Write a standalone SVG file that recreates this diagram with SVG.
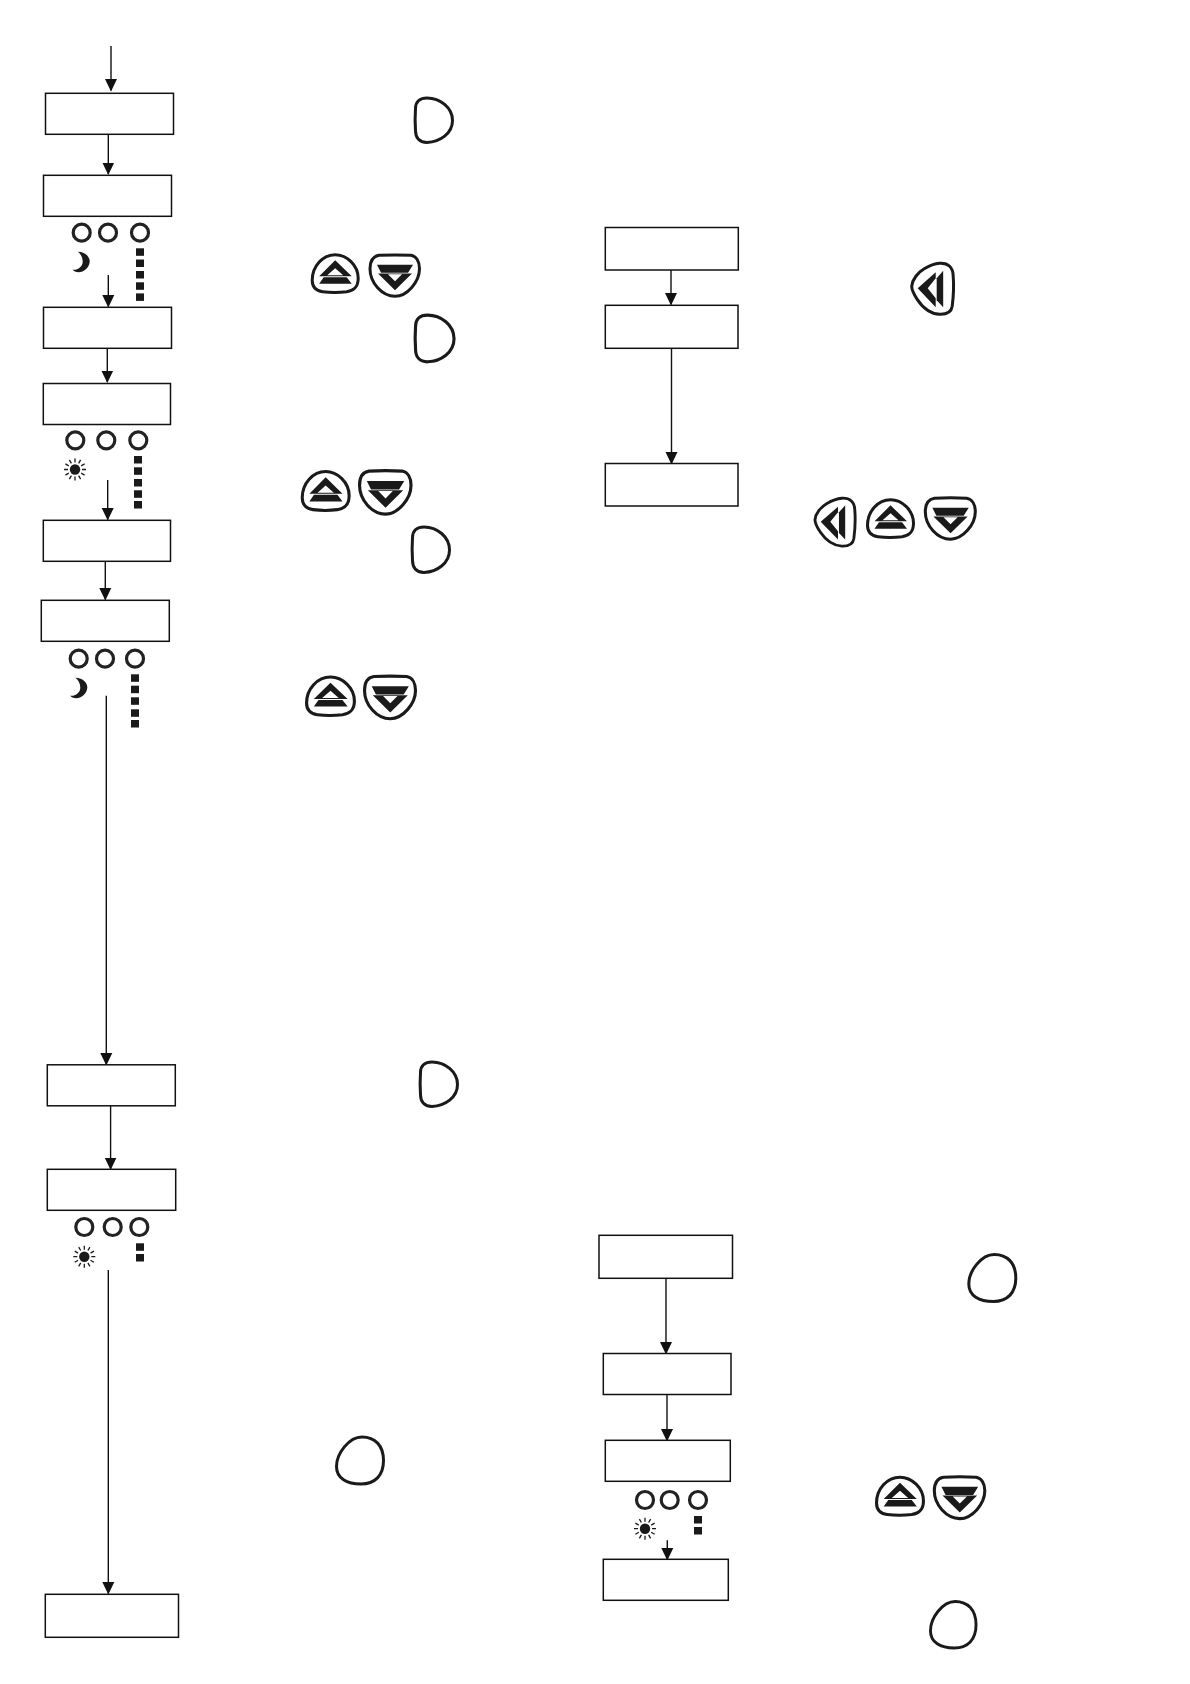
<svg xmlns="http://www.w3.org/2000/svg" width="1190" height="1684" viewBox="0 0 1190 1684">
<style>
.box{fill:#fff;stroke:#111;stroke-width:1.5}
.conn{fill:none;stroke:#111;stroke-width:1.4;marker-end:url(#arrow)}
.led{fill:#fff;stroke:#222;stroke-width:3.2}
.btn{fill:#fff;stroke:#1a1a1a;stroke-width:3}
.ink{fill:#1a1a1a}
.ray{stroke:#1a1a1a;stroke-width:1.3}
</style>
<defs>
<marker id="arrow" markerUnits="userSpaceOnUse" markerWidth="14" markerHeight="14" refX="11.500" refY="7" orient="auto"><path d="M0,1L12.500,7L0,13Z" fill="#111"/></marker>
<path id="d" class="btn" d="M13,1.500C26,1.500 38.500,11 38.500,24C38.500,37 26,45.500 13,46C5,46 1.500,41 1.500,34C1,27 1,19 1.500,12C1.500,5 6,1.500 13,1.500Z"/>
<path id="o" class="btn" d="M27,1.500C40,1.500 48.500,10 48.500,25C48.500,40 40,48.500 26,48.500C12,48.500 1.500,43 1.500,31C1.500,18 14,1.500 27,1.500Z"/>
<g id="up"><path class="btn" d="M24.500,1.500C36,1.500 47.500,12 47.500,25C47.500,35 42,37.500 36,38.500C28,39.500 20,39.500 12,38.500C5,37.500 1.500,33 1.500,27C1.500,13 12,1.500 24.500,1.500Z"/><path class="ink" fill-rule="evenodd" d="M24.500,7L41,23L8.500,23ZM24.500,15L16.500,22L32.500,22Z"/><path class="ink" d="M13,24L36,24L41,30.500L8.500,30.500Z"/></g>
<g id="down"><path class="btn" d="M10,1.500C20,1 32,1 42,1.500C47.500,2.500 50.500,8 50.500,15C50.500,28 38,42.500 26,42.500C13,42.500 1,29 1,15C1,7 4,2.500 10,1.500Z"/><path class="ink" d="M8,11L44,11L39,19L12,19Z"/><path class="ink" fill-rule="evenodd" d="M9,19.700L43,19.700L26,36.500ZM19,20.500L33,20.500L26,27.500Z"/></g>
<g id="left"><path class="btn" d="M29,1C37.500,0.500 42.500,5 42.500,14C43.500,26 42.500,36 41.500,44C40.500,50.500 35,52.200 29,52C20,51.500 12.500,46 6.500,37C2.500,31 1,26 1,24C1.500,17 7.500,10 13.500,6.500C18.500,3.500 23,1.500 29,1Z"/><path class="ink" fill-rule="evenodd" d="M7,26L25,10L25,45ZM17,26L25,36L25,16Z"/><path class="ink" d="M26,16L32.500,8.500L32.500,45L26,38Z"/></g>
<path id="moon" class="ink" d="M-4,-10C4,-10 8.500,-4 8,0C7.500,6 2,10.500 -3,10.500C-6,10.500 -8,9.500 -9,8C-4,8.500 1,5 1,0C1,-4 -1,-8 -4,-10Z"/>
<g id="sun"><circle r="5.200" class="ink"/><path class="ray" d="M0,-7V-11M3.600,-6.200L5.600,-9.600M6.200,-3.600L9.600,-5.600M7,0H11M6.200,3.600L9.600,5.600M3.600,6.200L5.600,9.600M0,7V11M-3.600,6.200L-5.600,9.600M-6.200,3.600L-9.600,5.600M-7,0H-11M-6.200,-3.600L-9.600,-5.600M-3.600,-6.200L-5.600,-9.600"/></g>
<rect id="sq" class="ink" width="8" height="7.500"/>
</defs>
<rect width="1190" height="1684" fill="#fff"/>
<g id="connectors">
<path class="conn" d="M111,46V90.500"/>
<path class="conn" d="M108.300,134.500V174"/>
<path class="conn" d="M108.300,275V306.500"/>
<path class="conn" d="M107.300,348.500V382"/>
<path class="conn" d="M107.700,480V519.500"/>
<path class="conn" d="M105.300,561.500V599.500"/>
<path class="conn" d="M106.300,695.700V1064.500"/>
<path class="conn" d="M110.600,1106V1169"/>
<path class="conn" d="M108.300,1270V1593.500"/>
<path class="conn" d="M671,270V304.500"/>
<path class="conn" d="M671.500,348V463.500"/>
<path class="conn" d="M666,1278V1353.500"/>
<path class="conn" d="M667,1394V1440.500"/>
<path class="conn" d="M667.300,1540.300V1559.500"/>
</g>
<g id="node-1"><rect class="box" x="45.500" y="93.300" width="128" height="41"/></g>
<g id="node-2"><rect class="box" x="43.500" y="175.300" width="128" height="41"/></g>
<g id="node-3"><rect class="box" x="43.500" y="307.300" width="128" height="41"/></g>
<g id="node-4"><rect class="box" x="43.300" y="383.500" width="127.200" height="41"/></g>
<g id="node-5"><rect class="box" x="43.300" y="520.300" width="127.200" height="41"/></g>
<g id="node-6"><rect class="box" x="41.300" y="600.300" width="128" height="41"/></g>
<g id="node-7"><rect class="box" x="47.300" y="1064.800" width="128" height="41"/></g>
<g id="node-8"><rect class="box" x="47.300" y="1169.300" width="128.400" height="41"/></g>
<g id="node-9"><rect class="box" x="45.300" y="1594.300" width="133.200" height="43"/></g>
<g id="node-r1"><rect class="box" x="605.300" y="227.500" width="133" height="42.500"/></g>
<g id="node-r2"><rect class="box" x="605.300" y="305.300" width="132.700" height="43"/></g>
<g id="node-r3"><rect class="box" x="605.300" y="463.500" width="132.700" height="42.500"/></g>
<g id="node-r4"><rect class="box" x="599" y="1235.300" width="133.500" height="43"/></g>
<g id="node-r5"><rect class="box" x="603.300" y="1353.500" width="127.700" height="41"/></g>
<g id="node-r6"><rect class="box" x="605.300" y="1440.300" width="125" height="41"/></g>
<g id="node-r7"><rect class="box" x="603.300" y="1559.300" width="125" height="41"/></g>
<g id="indicators-1"><circle class="led" cx="81.700" cy="232.700" r="8.500"/><circle class="led" cx="108" cy="232.700" r="8.500"/><circle class="led" cx="140" cy="232.700" r="8.500"/><use href="#moon" x="81.700" y="261.700"/><use href="#sq" x="136" y="248.300"/><use href="#sq" x="136" y="259.500"/><use href="#sq" x="136" y="271"/><use href="#sq" x="136" y="282.300"/><use href="#sq" x="136" y="293.400"/></g>
<g id="indicators-2"><circle class="led" cx="75.300" cy="440.300" r="8.500"/><circle class="led" cx="106.300" cy="440.300" r="8.500"/><circle class="led" cx="138.300" cy="440.300" r="8.500"/><use href="#sun" x="75" y="469.500"/><use href="#sq" x="134" y="456"/><use href="#sq" x="134" y="467.300"/><use href="#sq" x="134" y="479"/><use href="#sq" x="134" y="490.300"/><use href="#sq" x="134" y="501"/></g>
<g id="indicators-3"><circle class="led" cx="78.700" cy="658.700" r="8.500"/><circle class="led" cx="105" cy="658.700" r="8.500"/><circle class="led" cx="135" cy="658.700" r="8.500"/><use href="#moon" x="79.300" y="687.700"/><use href="#sq" x="131" y="674.300"/><use href="#sq" x="131" y="685.700"/><use href="#sq" x="131" y="697.300"/><use href="#sq" x="131" y="709.300"/><use href="#sq" x="131" y="720"/></g>
<g id="indicators-4"><circle class="led" cx="84.300" cy="1227" r="8.500"/><circle class="led" cx="112.700" cy="1227" r="8.500"/><circle class="led" cx="139.300" cy="1227" r="8.500"/><use href="#sun" x="84.300" y="1256.700"/><use href="#sq" x="136" y="1243.300"/><use href="#sq" x="136" y="1254"/></g>
<g id="indicators-5"><circle class="led" cx="645" cy="1500" r="8.500"/><circle class="led" cx="669.700" cy="1500" r="8.500"/><circle class="led" cx="698" cy="1500" r="8.500"/><use href="#sun" x="645" y="1528.700"/><use href="#sq" x="694" y="1516"/><use href="#sq" x="694" y="1527"/></g>
<g id="buttons">
<use href="#d" transform="translate(414,96.500)"/>
<use href="#d" transform="translate(414,313.500) scale(1.04,1.05)"/>
<use href="#d" transform="translate(411,525.500) scale(1,1.02)"/>
<use href="#d" transform="translate(419,1060.500)"/>
<use href="#o" transform="translate(335,1435.500)"/>
<use href="#o" transform="translate(967.300,1253)"/>
<use href="#o" transform="translate(929,1600) scale(.97,.99)"/>
<use href="#up" transform="translate(310.700,253.300)"/>
<use href="#down" transform="translate(369,253.800)"/>
<use href="#up" transform="translate(300.700,470) scale(1.02,1.03)"/>
<use href="#down" transform="translate(358.500,469.500) scale(1.04,1.05)"/>
<use href="#up" transform="translate(305,675.500) scale(1.04,1.02)"/>
<use href="#down" transform="translate(363.500,675) scale(1.03,1.03)"/>
<use href="#left" transform="translate(910.700,262.300)"/>
<use href="#left" transform="translate(814,497.300) scale(.96,.94)"/>
<use href="#up" transform="translate(866,498.300)"/>
<use href="#down" transform="translate(924.300,496.700) scale(1.01,1)"/>
<use href="#up" transform="translate(875,1475.700) scale(1.02,1.01)"/>
<use href="#down" transform="translate(933.300,1475.700) scale(1.02,1.01)"/>
</g>
</svg>
